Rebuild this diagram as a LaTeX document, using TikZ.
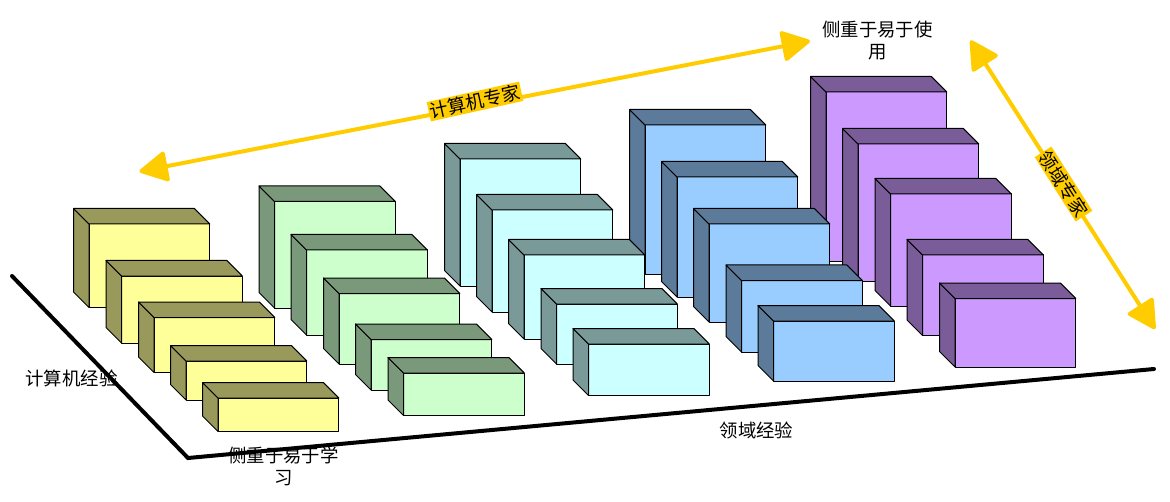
\documentclass[tikz,border=0pt]{standalone}
\usepackage{fontspec}
\setmainfont{Noto Sans CJK SC}
\usetikzlibrary{arrows.meta}
\definecolor{arrowgold}{HTML}{FFCC00}
\definecolor{fyellow}{HTML}{FFFF99}\definecolor{syellow}{HTML}{99995C}
\definecolor{fgreen}{HTML}{CCFFCC}\definecolor{sgreen}{HTML}{7A997A}
\definecolor{fcyan}{HTML}{CCFFFF}\definecolor{scyan}{HTML}{7A9999}
\definecolor{fblue}{HTML}{99CCFF}\definecolor{sblue}{HTML}{5C7A99}
\definecolor{fpurple}{HTML}{CC99FF}\definecolor{spurple}{HTML}{7A5C99}
\tikzset{
  axisline/.style={line width=3pt,line join=miter,line cap=round,black},
  goldarrow/.style={line width=3pt,arrowgold,{Triangle[length=23pt,width=24pt,round]}-{Triangle[length=23pt,width=24pt,round]}},
  goldlabel/.style={fill=arrowgold,inner sep=1pt,text=black,font=\fontsize{13.8pt}{16pt}\selectfont},
  plainlabel/.style={align=center,text=black,font=\fontsize{13.8pt}{16.5pt}\selectfont},
  cubeedge/.style={draw=black,line width=0.75pt,line join=round}
}
% #1 front colour, #2 side colour, #3,#4 back top-left, #5 width, #6 front bottom
\newcommand{\blockcube}[6]{%
  \fill[#1,cubeedge] (#3+15.5,#4+15.5) rectangle (#3+15.5+#5,#6);
  \fill[#2,cubeedge] (#3,#4) -- (#3+15.5,#4+15.5) -- (#3+15.5,#6) -- (#3,#6-15.5) -- cycle;
  \fill[#2,cubeedge] (#3,#4) -- (#3+#5,#4) -- (#3+#5+15.5,#4+15.5) -- (#3+15.5,#4+15.5) -- cycle;
}
\begin{document}
\begin{tikzpicture}[x=0.75pt,y=-0.75pt]
\useasboundingbox (0,0) rectangle (1170,502);
\coordinate (axisA) at (12,276);
\coordinate (axisB) at (188,458);
\coordinate (axisC) at (1154,369);
\draw[axisline] (axisA) -- (axisB) -- (axisC);
% purple
\blockcube{fpurple}{spurple}{810.5}{76.5}{120.8}{262}
\blockcube{fpurple}{spurple}{842.5}{128.5}{120.8}{281}
\blockcube{fpurple}{spurple}{875}{178.5}{120.8}{306}
\blockcube{fpurple}{spurple}{907}{239.5}{120.8}{335.5}
\blockcube{fpurple}{spurple}{939.5}{283}{120.8}{367}
% blue
\blockcube{fblue}{sblue}{629.5}{109.5}{120.8}{274}
\blockcube{fblue}{sblue}{661.5}{161.5}{120.8}{297}
\blockcube{fblue}{sblue}{693.5}{208.5}{120.8}{322}
\blockcube{fblue}{sblue}{726}{265}{120.8}{352}
\blockcube{fblue}{sblue}{758}{305.5}{120.8}{381}
% cyan
\blockcube{fcyan}{scyan}{444.5}{143.5}{120.8}{286}
\blockcube{fcyan}{scyan}{476.5}{194.5}{120.8}{312}
\blockcube{fcyan}{scyan}{508.5}{239.5}{120.8}{339}
\blockcube{fcyan}{scyan}{541}{288.5}{120.8}{364}
\blockcube{fcyan}{scyan}{573}{328.5}{120.8}{395.5}
% green
\blockcube{fgreen}{sgreen}{259}{186}{120.8}{308}
\blockcube{fgreen}{sgreen}{291}{234.5}{120.8}{335}
\blockcube{fgreen}{sgreen}{323.5}{278}{120.8}{364}
\blockcube{fgreen}{sgreen}{355.5}{324}{120.8}{390}
\blockcube{fgreen}{sgreen}{388}{357.5}{120.8}{415.5}
% yellow
\blockcube{fyellow}{syellow}{73.5}{208.5}{120.8}{307.5}
\blockcube{fyellow}{syellow}{106}{260.5}{120.8}{343}
\blockcube{fyellow}{syellow}{138.5}{302}{120.8}{372.5}
\blockcube{fyellow}{syellow}{170.5}{345.5}{120.8}{400}
\blockcube{fyellow}{syellow}{202.5}{382.5}{120.8}{431.5}
% arrows
\coordinate (csA) at (139.5,171.5);
\coordinate (csB) at (810,41);
\coordinate (dmA) at (970.5,40.5);
\coordinate (dmB) at (1155,329);
\draw[goldarrow] (csA) -- (csB);
\draw[goldarrow] (dmA) -- (dmB);
\node[goldlabel,rotate=12.5] (cslabel) at (475,101.5) {计算机专家};
\node[goldlabel,rotate=-57.5] (dmlabel) at (1063.5,184) {领域专家};
% labels
\node[plainlabel] (xplabel) at (71.5,378) {计算机经验};
\node[plainlabel] (dmexp) at (756.5,430) {领域经验};
\node[plainlabel] (learnlabel) at (283.5,466.5) {侧重于易于学\\习};
\node[plainlabel] (uselabel) at (877.5,41) {侧重于易于使\\用};
\end{tikzpicture}
\end{document}
